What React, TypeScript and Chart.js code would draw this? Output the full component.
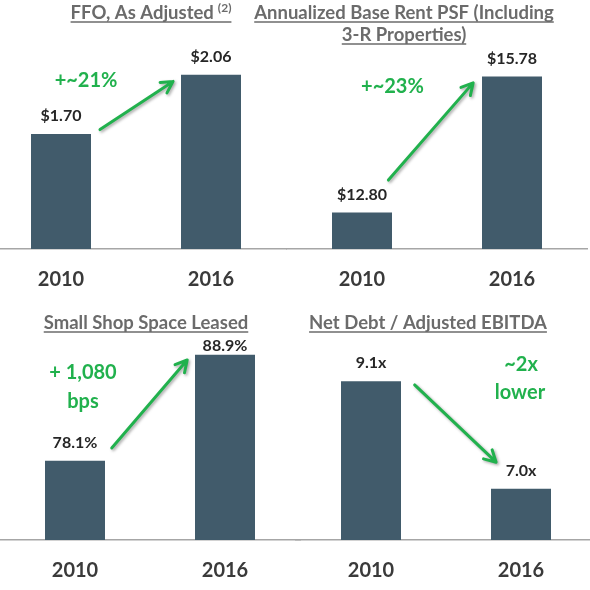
import React, { useEffect, useRef } from "react";
import { Chart, registerables } from "chart.js";

Chart.register(...registerables);

// ---------- data ----------
const years = ["2010", "2016"];

const ffoValues = [1.7, 2.06];
const ffoLabels = ["$1.70", "$2.06"];
const ffoRange = [1.0, 2.21];

const rentValues = [12.8, 15.78];
const rentLabels = ["$12.80", "$15.78"];
const rentRange = [12.0, 16.36];

const shopValues = [78.1, 88.9];
const shopLabels = ["78.1%", "88.9%"];
const shopRange = [70, 89.9];

const debtValues = [9.1, 7.0];
const debtLabels = ["9.1x", "7.0x"];
const debtRange = [6, 9.81];

// annotation anchors in data coordinates [category index, value]
const ffoArrow = [[0.26, 1.726], [0.747, 2.019]];
const rentArrow = [[0.176, 13.51], [0.741, 15.64]];
const shopArrow = [[0.245, 79.39], [0.748, 88.37]];
const debtArrow = [[0.291, 9.03], [0.834, 7.52]];

const ffoNotes = [{ text: "+~21%", at: [0.167, 2.027] }];
const rentNotes = [{ text: "+~23%", at: [0.203, 15.55] }];
const shopNotes = [
  { text: "+ 1,080", at: [0.053, 87.04] },
  { text: "bps", at: [0.053, 84.08] },
];
const debtNotes = [
  { text: "~2x", at: [1.0, 9.42] },
  { text: "lower", at: [0.993, 8.89] },
];

const ffoTitle = [{ text: "FFO, As Adjusted", sup: "(2)" }];
const rentTitle = [{ text: "Annualized Base Rent PSF (Including" }, { text: "3-R Properties)" }];
const shopTitle = [{ text: "Small Shop Space Leased" }];
const debtTitle = [{ text: "Net Debt / Adjusted EBITDA" }];

// ---------- layout / style ----------
const FONT = "Lato, 'Open Sans', sans-serif";
const BAR = "#415b6b";
const GREEN = "#21b14d";
const TITLE_GRAY = "#6b6b6b";
const CANVAS_LEFT = -20;
const CANVAS_W = 620;
const CANVAS_H = 295;
const TITLE_SIZE = 18.5;

type Panel = {
  values: number[];
  labels: string[];
  range: number[];
  arrow: number[][];
  notes: { text: string; at: number[] }[];
  title: { text: string; sup?: string }[];
  titleX: number;
  titleY: number;
  areaL: number;
  areaR: number;
  top: number;
  axisH: number;
  labelGaps: number[];
};

const panels: Panel[] = [
  { values: ffoValues, labels: ffoLabels, range: ffoRange, arrow: ffoArrow, notes: ffoNotes, title: ffoTitle, titleX: 151, titleY: 13, areaL: -14, areaR: 286, top: 0, axisH: 46, labelGaps: [18, 18] },
  { values: rentValues, labels: rentLabels, range: rentRange, arrow: rentArrow, notes: rentNotes, title: rentTitle, titleX: 404, titleY: 13, areaL: 287, areaR: 587, top: 0, axisH: 46, labelGaps: [18, 18] },
  { values: shopValues, labels: shopLabels, range: shopRange, arrow: shopArrow, notes: shopNotes, title: shopTitle, titleX: 146, titleY: 323, areaL: 0, areaR: 300, top: 295, axisH: 50, labelGaps: [18, 9] },
  { values: debtValues, labels: debtLabels, range: debtRange, arrow: debtArrow, notes: debtNotes, title: debtTitle, titleX: 428, titleY: 323, areaL: 296, areaR: 596, top: 295, axisH: 50, labelGaps: [18, 18] },
];

function drawArrow(ctx: CanvasRenderingContext2D, x1: number, y1: number, x2: number, y2: number) {
  ctx.save();
  ctx.shadowColor = "rgba(0,0,0,0.35)";
  ctx.shadowBlur = 3;
  ctx.shadowOffsetX = 1.5;
  ctx.shadowOffsetY = 1.5;
  ctx.strokeStyle = GREEN;
  ctx.lineWidth = 3;
  ctx.lineCap = "round";
  ctx.lineJoin = "round";
  const ang = Math.atan2(y2 - y1, x2 - x1);
  const h = 13;
  const spread = 0.5;
  ctx.beginPath();
  ctx.moveTo(x1, y1);
  ctx.lineTo(x2, y2);
  ctx.moveTo(x2 - h * Math.cos(ang - spread), y2 - h * Math.sin(ang - spread));
  ctx.lineTo(x2, y2);
  ctx.lineTo(x2 - h * Math.cos(ang + spread), y2 - h * Math.sin(ang + spread));
  ctx.stroke();
  ctx.restore();
}

function makePlugin(p: Panel) {
  return {
    id: "panelDecor",
    afterDatasetsDraw(chart: any) {
      const ctx: CanvasRenderingContext2D = chart.ctx;
      const xs = chart.scales.x;
      const ys = chart.scales.y;
      const meta = chart.getDatasetMeta(0);
      ctx.save();
      // value labels
      ctx.font = `bold 16px ${FONT}`;
      ctx.fillStyle = "#262626";
      ctx.textAlign = "center";
      ctx.textBaseline = "middle";
      meta.data.forEach((bar: any, i: number) => {
        ctx.fillText(p.labels[i], bar.x, bar.y - p.labelGaps[i]);
      });
      // green notes
      ctx.font = `bold 20px ${FONT}`;
      ctx.fillStyle = GREEN;
      p.notes.forEach((n) => {
        ctx.fillText(n.text, xs.getPixelForValue(n.at[0]), ys.getPixelForValue(n.at[1]));
      });
      // arrow
      drawArrow(
        ctx,
        xs.getPixelForValue(p.arrow[0][0]),
        ys.getPixelForValue(p.arrow[0][1]),
        xs.getPixelForValue(p.arrow[1][0]),
        ys.getPixelForValue(p.arrow[1][1])
      );
      // title
      const cx = p.titleX - CANVAS_LEFT;
      p.title.forEach((line, li) => {
        const cy = p.titleY - p.top + li * 22;
        ctx.font = `bold ${TITLE_SIZE}px ${FONT}`;
        const w1 = ctx.measureText(line.text).width;
        let w2 = 0;
        if (line.sup) {
          ctx.font = `bold 12px ${FONT}`;
          w2 = ctx.measureText(line.sup).width + 4;
        }
        const total = w1 + w2;
        const sx = cx - total / 2;
        ctx.fillStyle = TITLE_GRAY;
        ctx.textAlign = "left";
        ctx.textBaseline = "middle";
        ctx.font = `bold ${TITLE_SIZE}px ${FONT}`;
        ctx.fillText(line.text, sx, cy);
        if (line.sup) {
          ctx.font = `bold 12px ${FONT}`;
          ctx.fillText(line.sup, sx + w1 + 4, cy - 5);
        }
        ctx.strokeStyle = TITLE_GRAY;
        ctx.lineWidth = 1.3;
        ctx.beginPath();
        ctx.moveTo(sx, cy + 9);
        ctx.lineTo(sx + total, cy + 9);
        ctx.stroke();
      });
      ctx.restore();
    },
  };
}

function PanelChart({ p }: { p: Panel }) {
  const ref = useRef<HTMLCanvasElement>(null);
  useEffect(() => {
    if (!ref.current) return;
    const chart = new Chart(ref.current, {
      type: "bar",
      data: {
        labels: years,
        datasets: [
          {
            data: p.values,
            backgroundColor: BAR,
            borderWidth: 0,
            barPercentage: 0.4,
            categoryPercentage: 1,
          },
        ],
      },
      options: {
        responsive: false,
        animation: false,
        devicePixelRatio: 1,
        layout: {
          padding: {
            top: 50,
            left: p.areaL - CANVAS_LEFT,
            right: CANVAS_LEFT + CANVAS_W - p.areaR,
            bottom: 0,
          },
        },
        plugins: { legend: { display: false }, tooltip: { enabled: false } },
        scales: {
          x: {
            grid: { display: false, drawTicks: false },
            border: { display: true, color: "#a6a6a6", width: 1.5 },
            ticks: {
              color: "#3a3a3a",
              padding: 19,
              font: { family: FONT, weight: "bold", size: 20 },
            },
            afterFit: (s: any) => {
              s.height = p.axisH;
            },
          },
          y: { display: false, min: p.range[0], max: p.range[1] },
        },
      },
      plugins: [makePlugin(p)],
    } as any);
    return () => chart.destroy();
  }, []);
  return (
    <canvas
      ref={ref}
      width={CANVAS_W}
      height={CANVAS_H}
      style={{ position: "absolute", left: CANVAS_LEFT, top: p.top, width: CANVAS_W, height: CANVAS_H }}
    />
  );
}

export default function App() {
  return (
    <div
      style={{
        position: "absolute",
        left: 0,
        top: 0,
        width: 590,
        height: 590,
        overflow: "hidden",
        background: "#ffffff",
      }}
    >
      {panels.map((p, i) => (
        <PanelChart key={i} p={p} />
      ))}
    </div>
  );
}
